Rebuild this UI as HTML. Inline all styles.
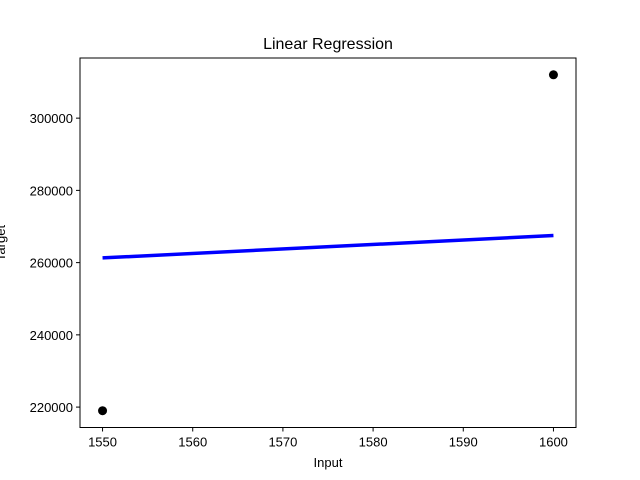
<!DOCTYPE html>
<html><head><meta charset="utf-8"><style>body{margin:0;background:#fff}svg{display:block;font-family:"Liberation Sans","DejaVu Sans",sans-serif}</style></head>
<body>
<svg id="c" width="640" height="480"></svg>
<script>
const xTicks=[1550,1560,1570,1580,1590,1600];
const yTicks=[220000,240000,260000,280000,300000];
const pointX=[1550,1600];
const pointY=[219000,312000];
const lineX=[1550,1600];
const lineY=[261300,267500];
const xMin=1547.5,xMax=1602.5,yMin=214350,yMax=316650;
const L=80,R=576,T=58,B=427.5;
const sx=v=>L+(v-xMin)/(xMax-xMin)*(R-L);
const sy=v=>B-(v-yMin)/(yMax-yMin)*(B-T);
const svg=document.getElementById('c');const NS='http://www.w3.org/2000/svg';
function mk(t,a,p){const e=document.createElementNS(NS,t);for(const k in a)e.setAttribute(k,a[k]);(p||svg).appendChild(e);return e;}
const title=mk('text',{x:328,y:49,'text-anchor':'middle','font-size':16});title.textContent='Linear Regression';


xTicks.forEach(v=>{const x=sx(v);
const tk=mk('line',{x1:x,x2:x,y1:B,y2:B+4,stroke:'#000'});


const t=mk('text',{x:x,y:B+19,'text-anchor':'middle','font-size':13});t.textContent=v;

});
yTicks.forEach(v=>{const y=sy(v);
const tk=mk('line',{x1:L-4,x2:L,y1:y,y2:y,stroke:'#000'});


const t=mk('text',{x:L-7,y:y+5,'text-anchor':'end','font-size':13});t.textContent=v;

});
const xl=mk('text',{x:328,y:467,'text-anchor':'middle','font-size':13});xl.textContent='Input';


const yl=mk('text',{x:5,y:243,'text-anchor':'middle','font-size':13,transform:'rotate(-90 5 243)'});yl.textContent='Target';


pointX.forEach((v,i)=>{const c=mk('circle',{cx:sx(v),cy:sy(pointY[i]),r:4.5,fill:'#000'});

});
const ln=mk('polyline',{points:lineX.map((v,i)=>sx(v)+','+sy(lineY[i])).join(' '),fill:'none',stroke:'#0000ff','stroke-width':3.5});


const fr=mk('rect',{x:L,y:T,width:R-L,height:B-T,fill:'none',stroke:'#000','stroke-width':1});


</script>
</body></html>
